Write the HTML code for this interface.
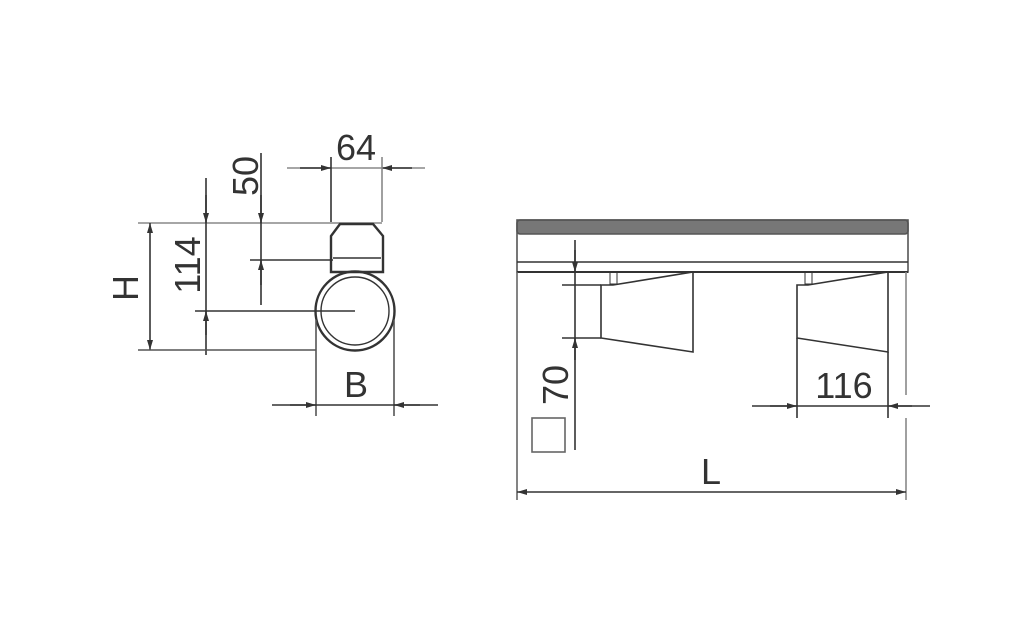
<!DOCTYPE html>
<html><head><style>html,body{margin:0;padding:0;background:#fff}svg{display:block}</style></head>
<body>
<svg width="1024" height="643" viewBox="0 0 1024 643" xmlns="http://www.w3.org/2000/svg" font-family="Liberation Sans, sans-serif" fill="none" stroke="#333" stroke-width="1.6">
<defs>
<marker id="a" viewBox="0 0 10 6" refX="10" refY="3" markerWidth="10" markerHeight="6" orient="auto-start-reverse" markerUnits="userSpaceOnUse"><path d="M0,0L10,3L0,6z" fill="#333" stroke="none"/></marker>
</defs>
<!-- left view -->
<line x1="287" y1="168" x2="425" y2="168" stroke="#888"/>
<line x1="300" y1="168" x2="331" y2="168" marker-end="url(#a)"/>
<line x1="412" y1="168" x2="382" y2="168" marker-end="url(#a)"/>
<line x1="331" y1="157" x2="331" y2="222"/>
<line x1="382" y1="157" x2="382" y2="222" stroke="#888"/>
<text x="356" y="160" font-size="36" fill="#333" stroke="none" text-anchor="middle">64</text>
<line x1="138" y1="223" x2="382" y2="223" stroke="#888"/>
<path d="M331,272 V236 L340,224 H373 L383,236 V272 Z" stroke-width="2.4"/>
<line x1="333" y1="258" x2="381" y2="258"/>
<line x1="250" y1="260" x2="333" y2="260"/>
<line x1="261" y1="153" x2="261" y2="305"/>
<line x1="261" y1="195" x2="261" y2="223" marker-end="url(#a)"/>
<line x1="261" y1="285" x2="261" y2="260" marker-end="url(#a)"/>
<text transform="translate(258,176) rotate(-90)" font-size="36" fill="#333" stroke="none" text-anchor="middle">50</text>
<line x1="206" y1="178" x2="206" y2="355"/>
<line x1="206" y1="195" x2="206" y2="223" marker-end="url(#a)"/>
<line x1="206" y1="335" x2="206" y2="311" marker-end="url(#a)"/>
<line x1="195" y1="311" x2="355" y2="311"/>
<text transform="translate(200,265) rotate(-90)" font-size="36" fill="#333" stroke="none" text-anchor="middle">114</text>
<line x1="150" y1="223" x2="150" y2="350" marker-start="url(#a)" marker-end="url(#a)"/>
<text transform="translate(138,288) rotate(-90)" font-size="36" fill="#333" stroke="none" text-anchor="middle">H</text>
<line x1="138" y1="350" x2="316" y2="350" stroke="#555"/>
<circle cx="355" cy="311" r="39.5" stroke-width="2.4"/>
<circle cx="355" cy="311" r="34" stroke-width="1.4"/>
<line x1="316" y1="320" x2="316" y2="416" stroke="#555"/>
<line x1="394" y1="320" x2="394" y2="416" stroke="#555"/>
<line x1="272" y1="405" x2="438" y2="405"/>
<line x1="290" y1="405" x2="316" y2="405" marker-end="url(#a)"/>
<line x1="420" y1="405" x2="394" y2="405" marker-end="url(#a)"/>
<text x="356" y="397" font-size="36" fill="#333" stroke="none" text-anchor="middle">B</text>
<!-- right view -->
<rect x="517" y="220" width="391" height="14" rx="3" fill="#777" stroke="#555"/>
<rect x="517" y="220" width="391" height="52" stroke="#555"/>
<line x1="517" y1="262" x2="908" y2="262"/>
<line x1="517" y1="272" x2="908" y2="272" stroke-width="2"/>
<line x1="517" y1="272" x2="517" y2="500" stroke="#666"/>
<line x1="906" y1="272" x2="906" y2="395" stroke="#888"/>
<line x1="906" y1="418" x2="906" y2="500" stroke="#888"/>
<line x1="575" y1="240" x2="575" y2="450"/>
<line x1="575" y1="250" x2="575" y2="272" marker-end="url(#a)"/>
<line x1="575" y1="360" x2="575" y2="338" marker-end="url(#a)"/>
<line x1="562" y1="285" x2="601" y2="285"/>
<line x1="562" y1="338" x2="601" y2="338"/>
<text transform="translate(568,385) rotate(-90)" font-size="36" fill="#333" stroke="none" text-anchor="middle">70</text>
<rect x="532" y="418" width="33" height="34" stroke="#666"/>
<path d="M601,285 V338 L693,352 V272 L613,285 Z"/>
<rect x="610" y="272" width="7" height="12" stroke-width="1"/>
<path d="M797,285 V338 L888,352 V272 L808,285 Z"/>
<rect x="805" y="272" width="7" height="12" stroke-width="1"/>
<line x1="797" y1="338" x2="797" y2="418"/>
<line x1="888" y1="352" x2="888" y2="418"/>
<line x1="752" y1="406" x2="930" y2="406"/>
<line x1="770" y1="406" x2="797" y2="406" marker-end="url(#a)"/>
<line x1="912" y1="406" x2="888" y2="406" marker-end="url(#a)"/>
<text x="844" y="398" font-size="36" fill="#333" stroke="none" text-anchor="middle">116</text>
<line x1="517" y1="492" x2="906" y2="492" marker-start="url(#a)" marker-end="url(#a)"/>
<text x="711" y="484" font-size="36" fill="#333" stroke="none" text-anchor="middle">L</text>
</svg>
</body></html>
